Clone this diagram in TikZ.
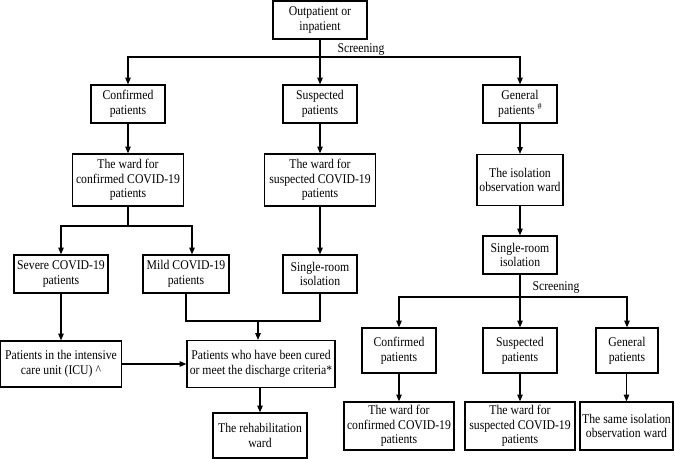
\documentclass[tikz,border=0pt]{standalone}
\usepackage{fontspec}
\setmainfont{Liberation Serif}[FakeStretch=0.88]
\usetikzlibrary{arrows.meta}
\begin{document}
\begin{tikzpicture}[x=0.75pt,y=-0.75pt,
  line width=0.9pt,
  bx/.style 2 args={draw, minimum width=#1*0.75pt, minimum height=#2*0.75pt,
     inner sep=0pt, align=center, font=\fontsize{10pt}{11pt}\selectfont},
  arr/.style={-{Triangle[length=5pt,width=4pt]}},
  lbl/.style={inner sep=0pt, font=\fontsize{10pt}{11pt}\selectfont}]
\useasboundingbox (0,0) rectangle (675,459);
% top level
\node[bx={94}{38}] (out) at (320,20) {Outpatient or\\inpatient};
\node[bx={74}{38}] (conf1) at (128,104) {Confirmed\\patients};
\node[bx={74}{38}] (susp1) at (320,104) {Suspected\\patients};
\node[bx={74}{38}] (gen1) at (520,104) {General\\patients \raisebox{3.5pt}{\fontsize{7pt}{7pt}\selectfont\#}};
\node[bx={111}{52}] (ward1c) at (128,180) {The ward for\\confirmed COVID-19\\patients};
\node[bx={111}{52}] (ward1s) at (320,180) {The ward for\\suspected COVID-19\\patients};
\node[bx={86}{51}] (isoobs) at (520,180) {The isolation\\observation ward};
\node[bx={94}{38}] (severe) at (61,274) {Severe COVID-19\\patients};
\node[bx={86}{38}] (mild) at (186,274) {Mild COVID-19\\patients};
\node[bx={74}{38}] (single1) at (320,274) {Single-room\\isolation};
\node[bx={74}{38}] (single2) at (520,255) {Single-room\\isolation};
\node[bx={121}{46}] (icu) at (61,364) {Patients in the intensive\\care unit (ICU) \textasciicircum};
\node[bx={148}{47}] (cured) at (261,364) {Patients who have been cured\\or meet the discharge criteria*};
\node[bx={94}{45}] (rehab) at (260,435.5) {The rehabilitation\\ward};
\node[bx={74}{45}] (conf2) at (399,350.5) {Confirmed\\patients};
\node[bx={74}{45}] (susp2) at (520,350.5) {Suspected\\patients};
\node[bx={62}{45}] (gen2) at (627,350.5) {General\\patients};
\node[bx={110}{48}] (ward2c) at (399,426) {The ward for\\confirmed COVID-19\\patients};
\node[bx={110}{48}] (ward2s) at (520,426) {The ward for\\suspected COVID-19\\patients};
\node[bx={93}{48}] (same) at (626.5,426) {The same isolation\\observation ward};
% labels
\node[lbl] (scr1) at (361,50) {Screening};
\node[lbl] (scr2) at (556,288) {Screening};
% junctions
\coordinate (j1) at (320,57);
\coordinate (j2) at (128,226);
\coordinate (j3) at (258,321);
\coordinate (j4) at (520,297);
% connectors
\draw[arr] (out) -- (susp1);
\draw[arr] (j1) -| (conf1);
\draw[arr] (j1) -| (gen1);
\draw[arr] (conf1) -- (ward1c);
\draw[arr] (susp1) -- (ward1s);
\draw[arr] (gen1) -- (isoobs);
\draw (ward1c) -- (j2);
\draw[arr] (j2) -| (severe);
\draw[arr] (j2) -| ([xshift=4.5pt]mild.north);
\draw[arr] (ward1s) -- (single1);
\draw[arr] (isoobs) -- (single2);
\draw[arr] (severe) -- (icu);
\draw (mild.south) |- (j3) -| (single1.south);
\draw[arr] (j3) -- (j3 |- cured.north);
\draw[arr] (icu) -- (cured);
\draw[arr] (cured.south -| rehab) -- (rehab);
\draw[arr] (single2) -- (susp2);
\draw[arr] (j4) -| (conf2);
\draw[arr] (j4) -| (gen2);
\draw[arr] (conf2) -- (ward2c);
\draw[arr] (susp2) -- (ward2s);
\draw[arr] (gen2.south -| same) -- (same);
\end{tikzpicture}
\end{document}
